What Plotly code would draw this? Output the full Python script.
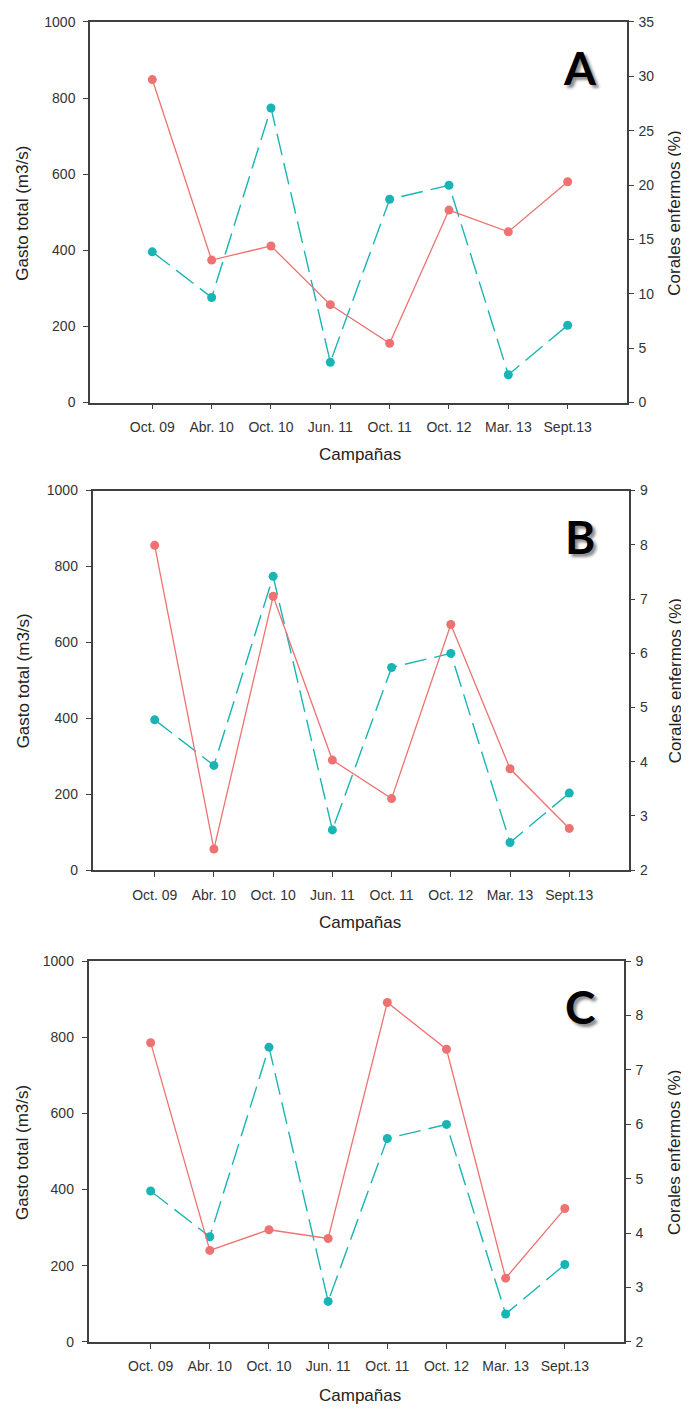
import plotly.graph_objects as go

# The page body adds an 8px margin, so the figure is drawn 8px in from the
# top-left corner; reference pixel positions are shifted by OFF accordingly.
OFF = 8
W, H = 689 - OFF, 1416 - OFF

campaigns = ["Oct. 09", "Abr. 10", "Oct. 10", "Jun. 11", "Oct. 11", "Oct. 12", "Mar. 13", "Sept.13"]
gasto_total = [396, 276, 774, 106, 534, 571, 73, 203]
corales_A = [29.7, 13.1, 14.4, 9.0, 5.45, 17.7, 15.7, 20.3]
corales_B = [7.99, 2.39, 7.05, 4.03, 3.32, 6.53, 3.87, 2.77]
corales_C = [7.50, 3.68, 4.06, 3.90, 8.24, 7.38, 3.17, 4.45]
panel_letters = ["A", "B", "C"]
right_ranges = [(0, 35, 5), (2, 9, 1), (2, 9, 1)]
left_ticks = [0, 200, 400, 600, 800, 1000]

RED = "#ee7272"
TEAL = "#19b5b5"
AX = "#404040"
FONT = "Liberation Sans, Arial, sans-serif"

# reference pixel boxes of the three plot areas: (left, right, top, bottom)
boxes = [(90, 627, 14, 399), (92.5, 628.5, 488, 872), (88.5, 624, 964, 1349)]
xtitle_y = [452, 925, 1403]
ytitle_y = [208, 681, 1158]


def px(x):
    return (x - OFF) / W


def py(y):
    return 1 - (y - OFF) / H


fig = go.Figure()
annotations = []

for i, (corales, letter, (lo, hi, st), box) in enumerate(zip(
        [corales_A, corales_B, corales_C], panel_letters, right_ranges, boxes)):
    l, r, t, b = box
    xd = [px(l), px(r)]
    yd = [py(b), py(t)]
    n = i + 1
    xa = "x" if n == 1 else f"x{n}"
    ya_l = "y" if n == 1 else f"y{2*n-1}"
    ya_r = f"y{2*n}"

    fig.add_trace(go.Scatter(
        x=campaigns, y=gasto_total, xaxis=xa, yaxis=ya_l, mode="lines+markers",
        line=dict(color=TEAL, width=1.4, dash="22px,8px"),
        marker=dict(color=TEAL, size=9), showlegend=False))
    fig.add_trace(go.Scatter(
        x=campaigns, y=corales, xaxis=xa, yaxis=ya_r, mode="lines+markers",
        line=dict(color=RED, width=1.3),
        marker=dict(color=RED, size=9), showlegend=False))

    xkey = "xaxis" if n == 1 else f"xaxis{n}"
    ylkey = "yaxis" if n == 1 else f"yaxis{2*n-1}"
    yrkey = f"yaxis{2*n}"

    fig.layout[xkey] = dict(
        domain=xd, anchor=ya_l, type="category", range=[-1.05, 8.0],
        showline=True, linecolor=AX, linewidth=1.5, mirror=True,
        ticks="outside", ticklen=5, tickcolor=AX, tickwidth=1.2,
        ticklabelstandoff=6,
        tickfont=dict(family=FONT, size=14, color="#333"),
        showgrid=False, zeroline=False, fixedrange=True)
    fig.layout[ylkey] = dict(
        domain=yd, anchor=xa, range=[0, 1000], tickvals=left_ticks,
        showline=True, linecolor=AX, linewidth=1.5,
        ticks="outside", ticklen=5, tickcolor=AX, tickwidth=1.2,
        ticklabelstandoff=5,
        tickfont=dict(family=FONT, size=14, color="#333"),
        showgrid=False, zeroline=False, fixedrange=True)
    fig.layout[yrkey] = dict(
        overlaying=ya_l, side="right", anchor=xa, range=[lo, hi],
        tickvals=list(range(lo, hi + 1, st)),
        showline=True, linecolor=AX, linewidth=1.5,
        ticks="outside", ticklen=5, tickcolor=AX, tickwidth=1.2,
        ticklabelstandoff=2,
        tickfont=dict(family=FONT, size=14, color="#333"),
        showgrid=False, zeroline=False, fixedrange=True)

    annotations.append(dict(
        text="Campañas", xref="paper", yref="paper", x=px(360), y=py(xtitle_y[i]),
        showarrow=False, xanchor="center", yanchor="middle",
        font=dict(family=FONT, size=17, color="#222")))
    annotations.append(dict(
        text="Gasto total (m3/s)", xref="paper", yref="paper", x=px(23), y=py(ytitle_y[i]),
        showarrow=False, xanchor="center", yanchor="middle", textangle=-90,
        font=dict(family=FONT, size=17, color="#222")))
    annotations.append(dict(
        text="Corales enfermos (%)", xref="paper", yref="paper", x=px(675), y=py(ytitle_y[i]),
        showarrow=False, xanchor="center", yanchor="middle", textangle=-90,
        font=dict(family=FONT, size=17, color="#222")))
    annotations.append(dict(
        text=f"<b>{letter}</b>", xref="paper", yref="paper", x=px(580), y=py(t + 46),
        showarrow=False, xanchor="center", yanchor="middle",
        font=dict(family="Lato, Open Sans", size=46, color="#000",
                  shadow="3px 3px 3px rgba(0,0,0,0.45)")))

fig.update_layout(
    width=W, height=H, margin=dict(l=0, r=0, t=0, b=0),
    paper_bgcolor="white", plot_bgcolor="white",
    annotations=annotations, showlegend=False)

fig.write_html("out.html")
